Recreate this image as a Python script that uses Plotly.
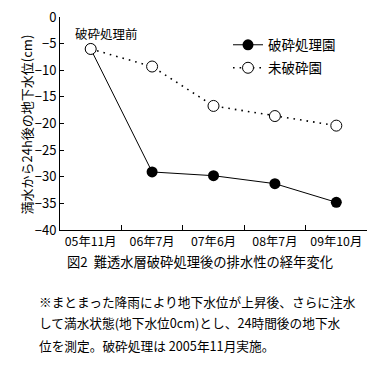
import plotly.graph_objects as go

categories = ["05年11月", "06年7月", "07年6月", "08年7月", "09年10月"]
treated = [-6.0, -29.1, -29.8, -31.3, -34.8]
untreated = [-6.0, -9.3, -16.7, -18.6, -20.4]
yticks = [0, -5, -10, -15, -20, -25, -30, -35, -40]
note_lines = [
    "※まとまった降雨により地下水位が上昇後、さらに注水",
    "して満水状態(地下水位0cm)とし、24時間後の地下水",
    "位を測定。破砕処理は 2005年11月実施。",
]

FONT = "Noto Sans CJK JP"
fig = go.Figure()
fig.add_trace(go.Scatter(
    x=categories, y=treated, name="破砕処理園", mode="lines+markers",
    line=dict(color="black", width=1),
    marker=dict(symbol="circle", size=11, color="black"),
    legend="legend",
))
fig.add_trace(go.Scatter(
    x=categories, y=untreated, name="未破砕園", mode="lines+markers",
    line=dict(color="black", width=1.6, dash="1.6px,5px"),
    marker=dict(symbol="circle", size=11, color="white", line=dict(color="black", width=1)),
    legend="legend2",
))

L, R, T, B = 60, 14, 17, 141
H = 371 - T - B
W = 381 - L - R

def py(p):
    return (371 - B - p) / H

def px(p):
    return (p - L) / W

annotations = [
    dict(x=0, y=-6, xref="x", yref="y", text="破砕処理前", showarrow=False,
         xshift=16, yshift=15, font=dict(size=12.5)),
    dict(x=px(200), y=py(273), xref="paper", yref="paper",
         text="図2  難透水層破砕処理後の排水性の経年変化",
         showarrow=False, font=dict(size=13.3)),
    dict(x=px(14), y=py(125), xref="paper", yref="paper", textangle=-90,
         text="満水から24h後の地下水位(cm)", showarrow=False, font=dict(size=13)),
]
for i, line in enumerate(note_lines):
    annotations.append(dict(x=px(37), y=py(301 + 22 * i), xref="paper", yref="paper",
                            xanchor="left", yanchor="middle", align="left",
                            showarrow=False, font=dict(size=12.7), text=line))

leg_common = dict(xanchor="left", yanchor="middle", bgcolor="rgba(0,0,0,0)",
                  font=dict(size=13.5))
fig.update_layout(
    width=381, height=371,
    margin=dict(l=L, r=R, t=T, b=B, autoexpand=False),
    paper_bgcolor="white", plot_bgcolor="white",
    font=dict(family=FONT, size=13, color="black"),
    showlegend=True,
    legend=dict(x=px(228), y=py(45), **leg_common),
    legend2=dict(x=px(228), y=py(68), **leg_common),
    xaxis=dict(type="category", range=[-0.5, 4.5], showline=True, linecolor="black",
               linewidth=1, ticks="inside", tickson="boundaries", ticklen=5,
               tickcolor="black", showgrid=False, zeroline=False, tickangle=0,
               tickfont=dict(size=12.3), automargin=False, ticklabelstandoff=0),
    yaxis=dict(range=[-40, 0], tickvals=yticks, showline=True, linecolor="black",
               linewidth=1, ticks="inside", ticklen=4, tickcolor="black",
               showgrid=False, zeroline=False, automargin=False),
    annotations=annotations,
)
fig.write_html("out.html", config={"displayModeBar": False},
               post_script="document.body.style.margin='0px';")
